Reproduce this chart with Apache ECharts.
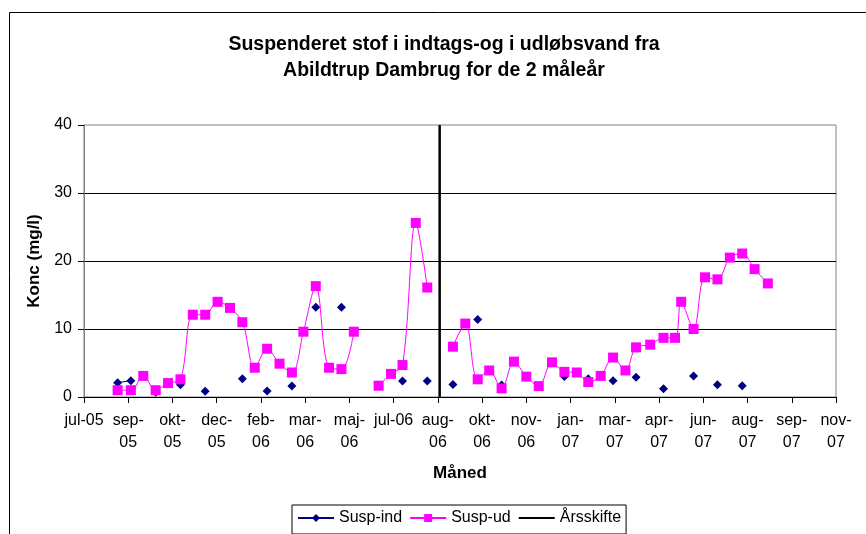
<!DOCTYPE html>
<html><head><meta charset="utf-8">
<script src="https://cdn.jsdelivr.net/npm/echarts@6/dist/echarts.min.js"></script>
<style>html,body{margin:0;padding:0;background:#fff}#c{width:866px;height:534px}</style>
</head><body><div id="c"></div>
<script>
// ---- data ----
const axisStart = '2005-07-17';
const axisSpanDays = 850;
const tickStepDays = 50;
const xTickLabels = ['jul-05','sep-\n05','okt-\n05','dec-\n05','feb-\n06','mar-\n06','maj-\n06','jul-06','aug-\n06',
  'okt-\n06','nov-\n06','jan-\n07','mar-\n07','apr-\n07','jun-\n07','aug-\n07','sep-\n07','nov-\n07'];
const yTicks = [0, 10, 20, 30, 40];
const sampleDates = [
  '2005-08-24','2005-09-08','2005-09-22','2005-10-06','2005-10-20','2005-11-03','2005-11-17','2005-12-01',
  '2005-12-15','2005-12-29','2006-01-12','2006-01-26','2006-02-09','2006-02-23','2006-03-09','2006-03-22',
  '2006-04-05','2006-04-20','2006-05-04','2006-05-18','2006-06-01','2006-06-15','2006-06-29','2006-07-12',
  '2006-07-27','2006-08-09','2006-08-23','2006-09-07','2006-09-21','2006-10-05','2006-10-18','2006-11-01',
  '2006-11-15','2006-11-29','2006-12-13','2006-12-28','2007-01-11','2007-01-25','2007-02-07','2007-02-21',
  '2007-03-07','2007-03-21','2007-04-02','2007-04-18','2007-05-03','2007-05-16','2007-05-23','2007-06-06',
  '2007-06-19','2007-07-03','2007-07-17','2007-07-31','2007-08-14','2007-08-29'];
const suspInd = [
  2.1, 2.4, null, 0.7, null, 1.8, null, 0.85,
  null, null, 2.7, null, 0.9, null, 1.6, null,
  13.2, null, 13.2, null, null, null, null, 2.35,
  null, 2.35, null, 1.85, null, 11.4, null, 1.76,
  null, null, null, null, 3.0, null, 2.7, null,
  2.4, null, 2.9, null, 1.2, null, null, 3.1,
  null, 1.8, null, 1.66, null, null];
const suspUd = [
  1.0, 1.0, 3.1, 1.0, 2.05, 2.6, 12.1, 12.1,
  14.0, 13.1, 11.0, 4.3, 7.1, 4.9, 3.6, 9.6,
  16.3, 4.3, 4.1, 9.6, null, 1.66, 3.4, 4.7,
  25.6, 16.1, null, 7.4, 10.8, 2.6, 3.9, 1.27,
  5.2, 3.0, 1.6, 5.1, 3.7, 3.6, 2.2, 3.1,
  5.8, 3.9, 7.3, 7.7, 8.7, 8.7, 14.0, 10.0,
  17.6, 17.3, 20.5, 21.1, 18.8, 16.7];
const yearChangeDate = '2006-08-23';
const yearChangeY = [0, 40];

// ---- build ----
const t0 = Date.parse(axisStart + 'T00:00:00Z');
const dayOf = d => (Date.parse(d + 'T00:00:00Z') - t0) / 86400000;
const pts = vals => sampleDates.map((d, i) => [dayOf(d), vals[i] == null ? '-' : vals[i]]);
const yc = dayOf(yearChangeDate);
const FONT = 'Arial, "Liberation Sans", sans-serif';

const chart = echarts.init(document.getElementById('c'), null, {renderer: 'canvas'});
chart.setOption({
  backgroundColor: '#fff',
  animation: false,
  title: {
    text: 'Suspenderet stof i indtags-og i udløbsvand fra\nAbildtrup Dambrug for de 2 måleår',
    left: 439, top: 27, textAlign: 'center',
    textStyle: {fontFamily: FONT, fontSize: 19.5, fontWeight: 'bold', color: '#000', lineHeight: 26}
  },
  graphic: [{
    type: 'rect', silent: true,
    shape: {x: 9.5, y: 12.5, width: 900, height: 600},
    style: {fill: 'none', stroke: '#000', lineWidth: 1}
  }],
  legend: {
    left: 292, top: 505, padding: [5, 5, 8, 5], itemGap: 7, itemWidth: 36, itemHeight: 10,
    borderColor: '#000', borderWidth: 1, backgroundColor: '#fff',
    textStyle: {fontFamily: FONT, fontSize: 16, color: '#000'},
    data: ['Susp-ind', 'Susp-ud', {name: 'Årsskifte', itemStyle: {opacity: 0}}]
  },
  grid: {left: 84, right: 30, top: 125, bottom: 137, containLabel: false, outerBoundsMode: 'none',
    show: true, borderColor: '#808080', borderWidth: 1, backgroundColor: 'transparent'},
  xAxis: {
    type: 'value', min: 0, max: axisSpanDays, interval: tickStepDays,
    name: 'Måned', nameLocation: 'middle', nameGap: 68,
    nameTextStyle: {fontFamily: FONT, fontSize: 17, fontWeight: 'bold', color: '#000'},
    axisLine: {show: true, lineStyle: {color: '#000', width: 1}},
    axisTick: {show: true, inside: false, length: 6, lineStyle: {color: '#000'}},
    axisLabel: {
      fontFamily: FONT, fontSize: 16, color: '#000', lineHeight: 22, margin: 13,
      showMinLabel: true, showMaxLabel: true, hideOverlap: false,
      formatter: v => xTickLabels[Math.round(v / tickStepDays)] || ''
    },
    splitLine: {show: false}
  },
  yAxis: {
    type: 'value', min: yTicks[0], max: yTicks[yTicks.length - 1], interval: yTicks[1] - yTicks[0],
    name: 'Konc (mg/l)', nameLocation: 'middle', nameGap: 31, nameRotate: 90,
    nameTextStyle: {fontFamily: FONT, fontSize: 17, fontWeight: 'bold', color: '#000'},
    axisLine: {show: true, lineStyle: {color: '#808080', width: 1}},
    axisTick: {show: true, inside: false, length: 6, lineStyle: {color: '#000'}},
    axisLabel: {fontFamily: FONT, fontSize: 16, color: '#000', margin: 12},
    splitLine: {show: true, showMinLine: false, showMaxLine: false, lineStyle: {color: '#000', width: 1}}
  },
  series: [
    {
      name: 'Susp-ind', type: 'line', data: pts(suspInd), connectNulls: false,
      symbol: 'diamond', symbolSize: 9, showAllSymbol: true,
      lineStyle: {color: '#000080', width: 1}, itemStyle: {color: '#000080'}, z: 2
    },
    {
      name: 'Susp-ud', type: 'line', data: pts(suspUd), connectNulls: false, smooth: 0.35,
      symbol: 'rect', symbolSize: 10, showAllSymbol: true,
      lineStyle: {color: '#FF00FF', width: 1}, itemStyle: {color: '#FF00FF'}, z: 3
    },
    {
      name: 'Årsskifte', type: 'line', data: yearChangeY.map(y => [yc, y]),
      symbol: 'none', lineStyle: {color: '#000', width: 2.5}, itemStyle: {color: '#000'}, z: 4
    }
  ]
});
</script>
</body></html>
